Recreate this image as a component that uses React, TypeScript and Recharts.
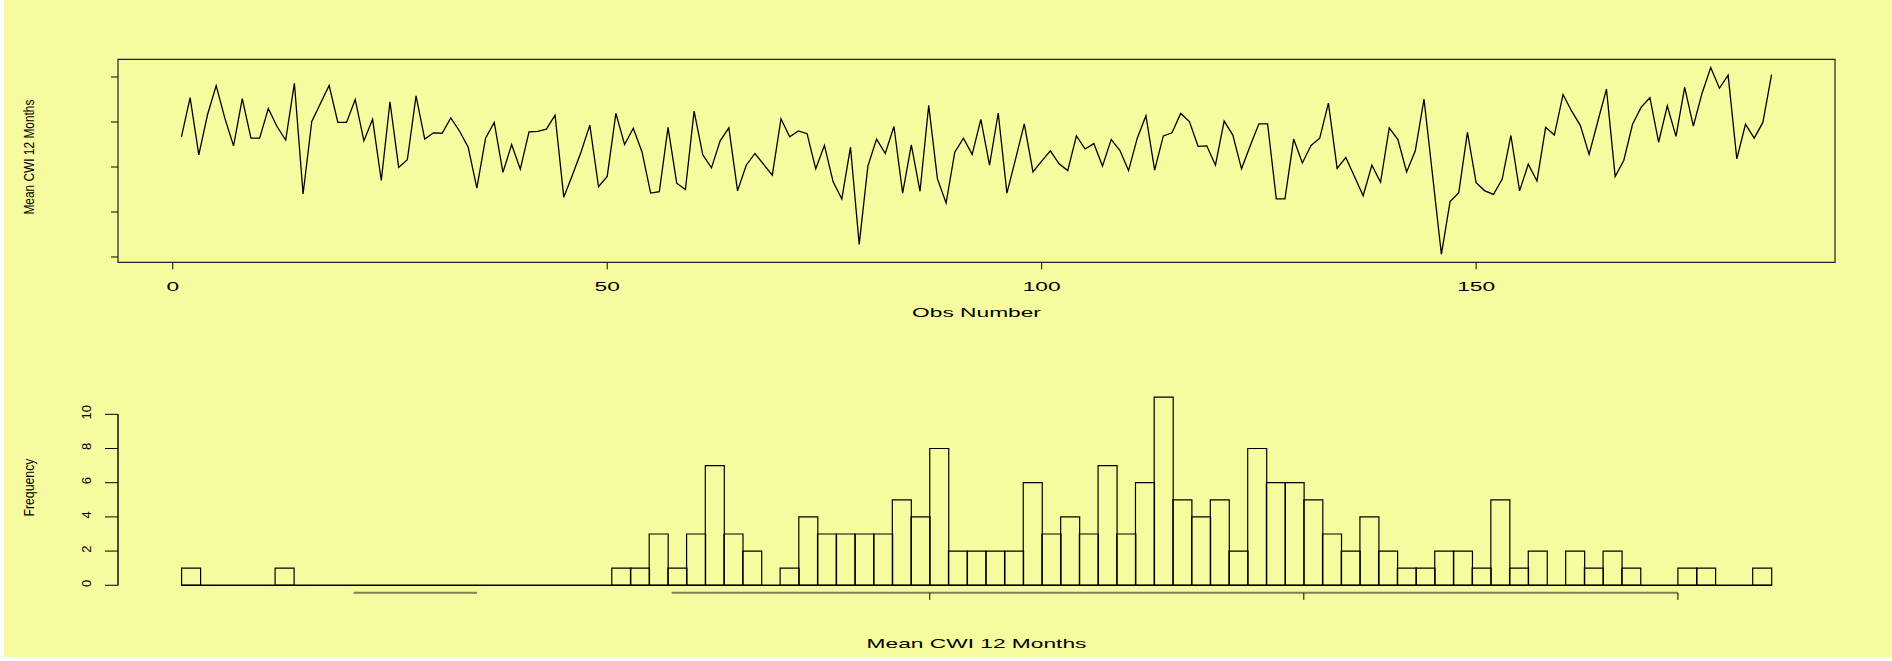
import React from "react";
import { LineChart, Line, XAxis, YAxis, ReferenceArea, ReferenceLine, ComposedChart, Bar } from "recharts";

const FONT = "'Liberation Sans', Arial, Helvetica, sans-serif";
const BG = "#f7fb9f";
const STRETCH = 1.75; // the picture's horizontal text is stretched

// mean CWI over 12 months, obs 1..184
const cwiValues = [
  2.67, 3.54, 2.27, 3.16, 3.81, 3.08, 2.47, 3.52, 2.64, 2.64,
  3.30, 2.90, 2.60, 3.86, 1.40, 3.01, 3.41, 3.81, 2.99, 2.99,
  3.50, 2.58, 3.06, 1.70, 3.45, 1.99, 2.16, 3.58, 2.62, 2.76,
  2.75, 3.09, 2.80, 2.44, 1.53, 2.64, 2.99, 1.88, 2.50, 1.95,
  2.78, 2.79, 2.84, 3.15, 1.33, 1.82, 2.34, 2.93, 1.56, 1.79,
  3.19, 2.50, 2.86, 2.34, 1.42, 1.45, 2.88, 1.64, 1.50, 3.24,
  2.27, 1.98, 2.58, 2.87, 1.47, 2.04, 2.30, 2.06, 1.82, 3.07,
  2.67, 2.80, 2.74, 1.96, 2.48, 1.67, 1.29, 2.44, 0.28, 2.02,
  2.62, 2.30, 2.90, 1.42, 2.49, 1.46, 3.37, 1.74, 1.20, 2.33,
  2.64, 2.28, 3.06, 2.04, 3.20, 1.42, 2.18, 2.96, 1.89, 2.13,
  2.36, 2.07, 1.92, 2.69, 2.40, 2.52, 2.02, 2.61, 2.37, 1.92,
  2.64, 3.14, 1.93, 2.69, 2.76, 3.19, 3.01, 2.46, 2.47, 2.04,
  3.02, 2.71, 1.96, 2.47, 2.96, 2.96, 1.29, 1.29, 2.62, 2.09,
  2.48, 2.64, 3.42, 1.97, 2.21, 1.79, 1.36, 2.04, 1.66, 2.87,
  2.61, 1.89, 2.36, 3.51, 1.79, 0.06, 1.23, 1.43, 2.77, 1.65,
  1.47, 1.39, 1.73, 2.70, 1.47, 2.06, 1.69, 2.88, 2.71, 3.61,
  3.24, 2.92, 2.28, 3.01, 3.73, 1.79, 2.15, 2.95, 3.33, 3.54,
  2.55, 3.36, 2.68, 3.77, 2.91, 3.64, 4.21, 3.75, 4.04, 2.18,
  2.95, 2.64, 2.99, 4.05,
];

// histogram of the same series: 85 bins of width 0.05 from 0
const binStart = 0;
const binWidth = 0.05;
const binCounts = [
  1, 0, 0, 0, 0, 1, 0, 0, 0, 0,
  0, 0, 0, 0, 0, 0, 0, 0, 0, 0,
  0, 0, 0, 1, 1, 3, 1, 3, 7, 3,
  2, 0, 1, 4, 3, 3, 3, 3, 5, 4,
  8, 2, 2, 2, 2, 6, 3, 4, 3, 7,
  3, 6, 11, 5, 4, 5, 2, 8, 6, 6,
  5, 3, 2, 4, 2, 1, 1, 2, 2, 1,
  5, 1, 2, 0, 2, 1, 2, 1, 0, 0,
  1, 1, 0, 0, 1,
];

const obsTicks = [0, 50, 100, 150];
const cwiTicks = [0, 1, 2, 3, 4];
const freqTicks = [0, 2, 4, 6, 8, 10];
const histTicks = [2, 3, 4];
// the bits of the histogram's x axis line that show up in the picture
const histAxisPieces = [
  [0.46, 0.79],
  [1.31, 4.0],
];

const lineData = cwiValues.map((v, i) => ({ obs: i + 1, cwi: v }));
const histData = binCounts.map((c, i) => ({ mid: binStart + binWidth * (i + 0.5), count: c }));
const binEnd = binStart + binWidth * binCounts.length;

const NoTick = () => <g />;

const WideTick = (props: any) => {
  const { x, y, payload } = props;
  return (
    <text
      transform={`translate(${x},${y + 20}) scale(${STRETCH},1)`}
      textAnchor="middle"
      fontSize={13}
      fontFamily={FONT}
      fill="#000"
    >
      {payload.value}
    </text>
  );
};

const RotTick = (props: any) => {
  const { x, y, payload } = props;
  return (
    <text
      transform={`translate(${x - 17},${y - 2}) rotate(-90)`}
      textAnchor="middle"
      dominantBaseline="central"
      fontSize={13}
      fontFamily={FONT}
      fill="#000"
    >
      {payload.value}
    </text>
  );
};

const xTitle = (text: string) => (props: any) => {
  const vb = props.viewBox || { x: 0, y: 0, width: 0, height: 0 };
  return (
    <text
      transform={`translate(${vb.x + vb.width / 2},${vb.y + 55}) scale(${STRETCH},1)`}
      textAnchor="middle"
      fontSize={13}
      fontFamily={FONT}
      fill="#000"
    >
      {text}
    </text>
  );
};

const yTitle = (text: string, len: number) => (props: any) => {
  const vb = props.viewBox || { x: 0, y: 0, width: 0, height: 0 };
  return (
    <text
      transform={`translate(${vb.x + 29.4},${vb.y + vb.height / 2 - 3.7}) rotate(-90)`}
      textAnchor="middle"
      dominantBaseline="central"
      fontSize={14}
      fontFamily={FONT}
      fill="#000"
      textLength={len}
      lengthAdjust="spacingAndGlyphs"
    >
      {text}
    </text>
  );
};

export default function App() {
  return (
    <div style={{ position: "absolute", left: 0, top: 0, width: 1892, height: 661, background: "#fff", overflow: "hidden" }}>
      <div style={{ position: "absolute", left: 4, top: 0, width: 1888, height: 657, background: BG }} />

      {/* time series */}
      <div style={{ position: "absolute", left: 0, top: 0 }}>
        <LineChart width={1892} height={330} data={lineData} margin={{ top: 59.3, right: 57, bottom: 0, left: 0 }}>
          <XAxis
            dataKey="obs"
            type="number"
            domain={[-6.3, 191.3]}
            ticks={obsTicks}
            interval={0}
            allowDataOverflow
            axisLine={false}
            tickSize={7}
            tickLine={{ stroke: "#000" }}
            tick={<WideTick />}
            height={67.7}
            label={xTitle("Obs Number")}
          />
          <YAxis
            type="number"
            domain={[-0.118, 4.393]}
            ticks={cwiTicks}
            interval={0}
            allowDataOverflow
            axisLine={false}
            tickSize={7}
            tickLine={{ stroke: "#000" }}
            tick={<NoTick />}
            width={118}
            label={yTitle("Mean CWI 12 Months", 115)}
          />
          <ReferenceArea
            x1={-6.3}
            x2={191.3}
            y1={-0.118}
            y2={4.393}
            fill="none"
            stroke="#222"
            strokeWidth={1.2}
            ifOverflow="visible"
          />
          <Line type="linear" dataKey="cwi" stroke="#000" strokeWidth={1.3} dot={false} isAnimationActive={false} />
        </LineChart>
      </div>

      {/* histogram */}
      <div style={{ position: "absolute", left: 0, top: 330 }}>
        <ComposedChart
          width={1892}
          height={331}
          data={histData}
          margin={{ top: 59.7, right: 57, bottom: 0, left: 0 }}
          barCategoryGap={0}
          barGap={0}
        >
          <XAxis
            dataKey="mid"
            type="number"
            domain={[-0.17, 4.42]}
            ticks={histTicks}
            interval={0}
            allowDataOverflow
            axisLine={false}
            tickSize={7}
            tickLine={{ stroke: "#000" }}
            tick={<NoTick />}
            height={68.2}
            label={xTitle("Mean CWI 12 Months")}
          />
          <YAxis
            type="number"
            domain={[-0.44, 11.44]}
            ticks={freqTicks}
            interval={0}
            allowDataOverflow
            axisLine={false}
            tickSize={13}
            tickLine={{ stroke: "#000" }}
            tick={<RotTick />}
            width={118}
            label={yTitle("Frequency", 58)}
          />
          <ReferenceLine
            key="yline"
            segment={[{ x: -0.17, y: 0 }, { x: -0.17, y: 10 }]}
            stroke="#000"
            strokeWidth={1.4}
            ifOverflow="visible"
          />
          <ReferenceLine
            key="base"
            segment={[{ x: binStart, y: 0 }, { x: binEnd, y: 0 }]}
            stroke="#000"
            strokeWidth={1.4}
            ifOverflow="visible"
          />
          {histAxisPieces.map(([a, b]) => (
            <ReferenceLine
              key={a}
              segment={[{ x: a, y: -0.44 }, { x: b, y: -0.44 }]}
              stroke="#7f8153"
              strokeWidth={2}
              ifOverflow="visible"
            />
          ))}
          <Bar dataKey="count" fill="none" stroke="#000" strokeWidth={1.2} isAnimationActive={false} />
        </ComposedChart>
      </div>
    </div>
  );
}
